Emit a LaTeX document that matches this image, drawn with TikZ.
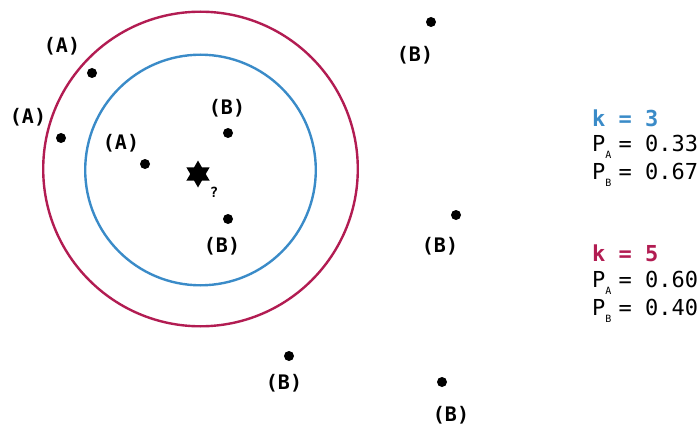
\documentclass[tikz,border=0pt]{standalone}
\usepackage{fontspec}
\setmainfont{DejaVu Sans Mono}
\usepackage{xcolor}
\usepackage{tikz}
\usetikzlibrary{shapes.geometric}

\definecolor{kblue}{RGB}{58,139,200}
\definecolor{kred}{RGB}{178,28,82}

\tikzset{
  dot/.style={circle, fill=black, inner sep=0pt, minimum size=10},
  lbl/.style={font=\fontsize{20}{20}\selectfont\bfseries, inner sep=0pt},
  res/.style={font=\fontsize{22}{22}\selectfont, anchor=west, inner sep=0pt},
}
\newcommand{\psub}[1]{P\rlap{\raisebox{-0.55ex}{\fontsize{10}{10}\selectfont #1}}}

\begin{document}
\begin{tikzpicture}[x=1pt, y=-1pt]
  \useasboundingbox (0,0) rectangle (697,428);

  % neighbourhoods
  \draw[kred, line width=2.4] (200.5,169) circle (157.3);
  \draw[kblue, line width=2.4] (200.5,170) circle (115.3);

  % query point
  \node[star, star points=6, star point ratio=1.75, fill=black, inner sep=0pt, minimum size=27] (q) at (198,174) {};
  \node[font=\fontsize{14}{14}\selectfont\bfseries, inner sep=0pt] (qm) at (214,192) {?};

  % class A
  \node[dot] (a1) at (92,73) {};
  \node[dot] (a2) at (61,138) {};
  \node[dot] (a3) at (145,164) {};
  \node[lbl] (la1) at (62,46) {(A)};
  \node[lbl] (la2) at (28,117) {(A)};
  \node[lbl] (la3) at (121,143) {(A)};

  % class B
  \node[dot] (b1) at (228,133) {};
  \node[dot] (b2) at (228,219) {};
  \node[dot] (b3) at (431,22) {};
  \node[dot] (b4) at (456,215) {};
  \node[dot] (b5) at (289,356) {};
  \node[dot] (b6) at (442,382) {};
  \node[lbl] (lb1) at (227,108) {(B)};
  \node[lbl] (lb2) at (222,246) {(B)};
  \node[lbl] (lb3) at (415,55) {(B)};
  \node[lbl] (lb4) at (440,246) {(B)};
  \node[lbl] (lb5) at (284,383) {(B)};
  \node[lbl] (lb6) at (451,415) {(B)};

  % probabilities
  \node[res, kblue, font=\fontsize{22}{22}\selectfont\bfseries] (k3) at (592,118) {k = 3};
  \node[res] (pa3) at (592,147) {\psub{A} = 0.33};
  \node[res] (pb3) at (592,175) {\psub{B} = 0.67};
  \node[res, kred, font=\fontsize{22}{22}\selectfont\bfseries] (k5) at (592,253) {k = 5};
  \node[res] (pa5) at (592,283) {\psub{A} = 0.60};
  \node[res] (pb5) at (592,311) {\psub{B} = 0.40};
\end{tikzpicture}
\end{document}
